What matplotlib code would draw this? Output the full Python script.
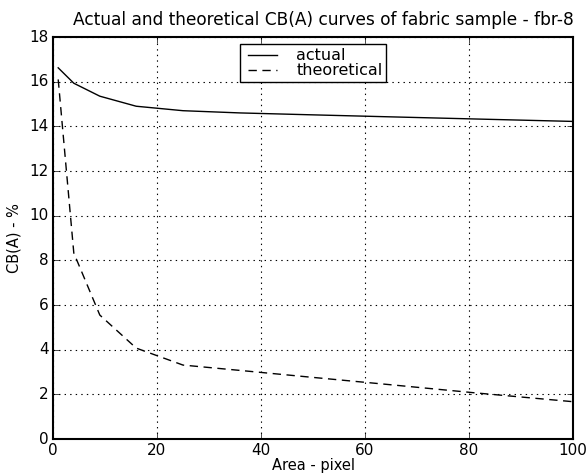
import matplotlib
matplotlib.use("Agg")
import matplotlib.pyplot as plt

area = [1, 4, 9, 16, 25, 36, 49, 64, 81, 100]
actual = [16.62, 15.93, 15.35, 14.9, 14.7, 14.6, 14.52, 14.43, 14.33, 14.22]
theoretical = [16.1, 8.33, 5.55, 4.07, 3.31, 3.07, 2.78, 2.45, 2.07, 1.67]
xticks = [0, 20, 40, 60, 80, 100]
yticks = [0, 2, 4, 6, 8, 10, 12, 14, 16, 18]

plt.style.use("classic")
fig = plt.figure(figsize=(5.87, 4.75), dpi=100, facecolor="white")
ax = fig.add_axes([53/587, 1-439/475, (573-53)/587, (439-37)/475])
ax.plot(area, actual, "k-", lw=1, label="actual")
ax.plot(area, theoretical, color="black", linestyle=(0, (6, 4)), lw=1, label="theoretical")
ax.set_xlim(0, 100)
ax.set_ylim(0, 18)
ax.set_xticks(xticks)
ax.set_yticks(yticks)
ax.grid(True, color="black", linestyle=":", linewidth=0.8)
ax.tick_params(labelsize=11, pad=3)
for s in ax.spines.values():
    s.set_linewidth(1.5)
ax.set_title("Actual and theoretical CB(A) curves of fabric sample - fbr-8",
             fontsize=12.25, x=0.519, pad=8.5)
ax.set_xlabel("Area - pixel", fontsize=10.5, labelpad=0)
ax.set_ylabel("CB(A) - %", fontsize=10.5, labelpad=6)
leg = ax.legend(loc="upper center", fontsize=11.5, fancybox=False, framealpha=1,
                borderaxespad=0.45, handlelength=2.4, handletextpad=0.9,
                labelspacing=0.0, borderpad=0.25)
leg.get_frame().set_edgecolor("black")
fig.savefig("out.png", dpi=100, facecolor="white")
